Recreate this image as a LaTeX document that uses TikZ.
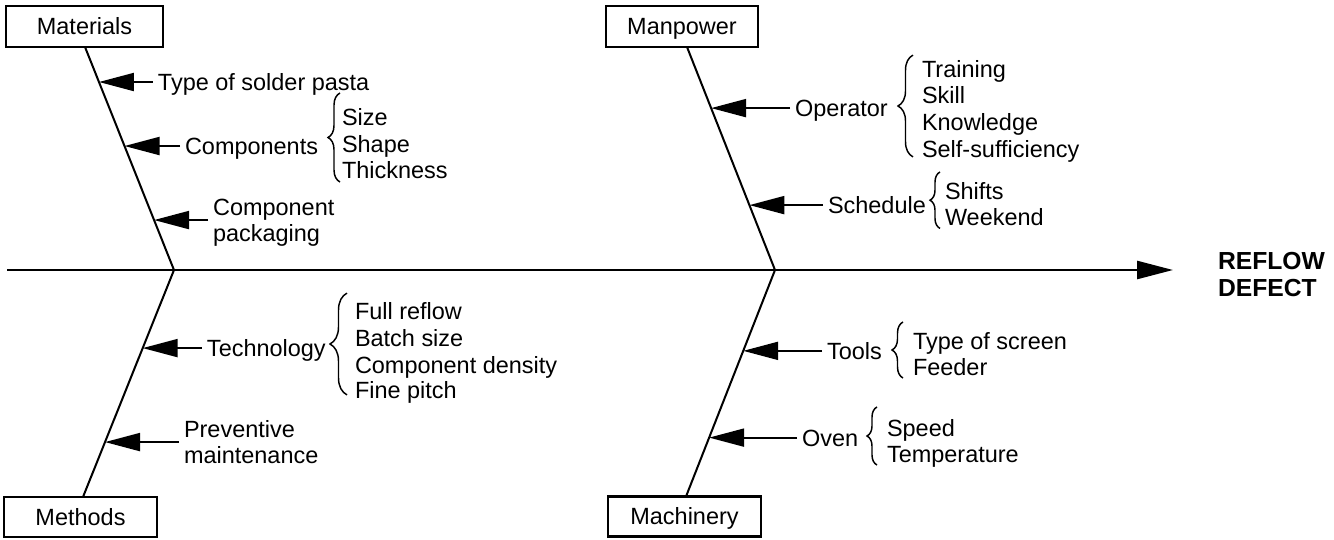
\documentclass[tikz,border=0pt]{standalone}
\usepackage{fontspec}
\setmainfont{Liberation Sans}
\usetikzlibrary{arrows.meta,calc,decorations.pathreplacing}

\begin{document}
\begin{tikzpicture}[x=0.75pt,y=-0.75pt,
  every node/.style={inner sep=0pt, outer sep=0pt},
  lab/.style={font=\fontsize{17.6}{21}\selectfont, text height=12.6pt, text depth=0pt, anchor=west},
  catbox/.style={draw, line width=2pt, minimum height=30.75pt,
    font=\fontsize{17.6}{21}\selectfont, text height=12.6pt, text depth=0pt},
  spine/.style={line width=1.5pt},
  axisline/.style={line width=1.9pt, -{Triangle[length=27pt,width=13.5pt]}},
  branch/.style={line width=1.5pt, shorten <=3.75pt, -{Triangle[length=26.25pt,width=13.5pt]}},
  curly/.style={line width=1.1pt, decorate, decoration={brace, amplitude=#1}},
  effect/.style={font=\fontsize{18.5}{21}\selectfont\bfseries, text height=13.3pt, text depth=0pt, anchor=west}
]
\useasboundingbox (0,0) rectangle (1334,539);

% category boxes
\node[catbox, minimum width=117.75pt] (mat) at (84.5,26.5) {Materials};
\node[catbox, minimum width=114pt] (man) at (682,26.5) {Manpower};
\node[catbox, minimum width=114.75pt, minimum height=30pt] (met) at (80.5,517) {Methods};
\node[catbox, minimum width=114.75pt, minimum height=30pt] (mac) at (684.5,516.5) {Machinery};

% main axis
\coordinate (axL) at (7,270);
\coordinate (axR) at (1173,270);
\coordinate (J1) at (174,270);
\coordinate (J2) at (775,270);
\draw[axisline] (axL) -- (axR);

\node[effect] (ef1) at (1218,261) {REFLOW};
\node[effect] (ef2) at (1218,288) {DEFECT};

% spines
\coordinate (matS) at ($(mat.south)+(0.5,0)$);
\coordinate (manS) at ($(man.south)+(5,0)$);
\coordinate (metN) at ($(met.north)+(2.5,0)$);
\coordinate (macN) at ($(mac.north)+(1.5,0)$);
\draw[spine] (matS) -- (J1);
\draw[spine] (manS) -- (J2);
\draw[spine] (J1) -- (metN);
\draw[spine] (J2) -- (macN);

% points where the causes meet the spines
\coordinate (tSolder) at ($(matS)!0.157!(J1)$);
\coordinate (tComp)   at ($(matS)!0.444!(J1)$);
\coordinate (tPack)   at ($(matS)!0.776!(J1)$);
\coordinate (tOper)   at ($(manS)!0.274!(J2)$);
\coordinate (tSched)  at ($(manS)!0.709!(J2)$);
\coordinate (tTech)   at ($(J1)!0.344!(metN)$);
\coordinate (tPrev)   at ($(J1)!0.758!(metN)$);
\coordinate (tTools)  at ($(J2)!0.357!(macN)$);
\coordinate (tOven)   at ($(J2)!0.740!(macN)$);

% Materials
\node[lab] (solder) at ($(tSolder)+(59,0)$) {Type of solder pasta};
\node[lab] (comp) at ($(tComp)+(60.5,0)$) {Components};
\node[lab] (packA) at ($(tPack)+(59,-12.75)$) {Component};
\node[lab] (packB) at ($(tPack)+(59,12.75)$) {packaging};
\coordinate (sPack) at ($(tPack)+(59,0)$);
\draw[branch] (solder.west) -- (tSolder);
\draw[branch] (comp.west) -- (tComp);
\draw[branch] (sPack) -- (tPack);

\node[lab] (size) at (342,117) {Size};
\node[lab] (shape) at (342,144) {Shape};
\node[lab] (thick) at (342,170) {Thickness};
\draw[curly=9pt] ($(thick.south west)+(-2,3.6)$) -- ($(size.north west)+(-2,-15.6)$);

% Manpower
\node[lab] (oper) at ($(tOper)+(84,0)$) {Operator};
\node[lab] (sched) at ($(tSched)+(78.6,0)$) {Schedule};
\draw[branch] (oper.west) -- (tOper);
\draw[branch] (sched.west) -- (tSched);

\node[lab] (train) at (922,69.5) {Training};
\node[lab] (skill) at (922,95) {Skill};
\node[lab] (know) at (922,122.5) {Knowledge};
\node[lab] (self) at (922,149.5) {Self-sufficiency};
\draw[curly=11.25pt] ($(self.south west)+(-9,-1)$) -- ($(train.north west)+(-9,-6)$);

\node[lab] (shifts) at (945,191) {Shifts};
\node[lab] (weekend) at (945,217) {Weekend};
\draw[curly=7.5pt] ($(weekend.south west)+(-5,3)$) -- ($(shifts.north west)+(-5,-10.6)$);

% Methods
\node[lab] (tech) at ($(tTech)+(64.3,0)$) {Technology};
\node[lab] (prevA) at ($(tPrev)+(79,-12.75)$) {Preventive};
\node[lab] (prevB) at ($(tPrev)+(79,12.75)$) {maintenance};
\coordinate (sPrev) at ($(tPrev)+(79,0)$);
\draw[branch] (tech.west) -- (tTech);
\draw[branch] (sPrev) -- (tPrev);

\node[lab] (full) at (355,311.5) {Full reflow};
\node[lab] (batch) at (355,338.5) {Batch size};
\node[lab] (dens) at (355,365) {Component density};
\node[lab] (fine) at (355,390.5) {Fine pitch};
\draw[curly=12.75pt] ($(fine.south west)+(-8,-4)$) -- ($(full.north west)+(-8,-10)$);

% Machinery
\node[lab] (tools) at ($(tTools)+(83.8,0)$) {Tools};
\node[lab] (oven) at ($(tOven)+(93,0)$) {Oven};
\draw[branch] (tools.west) -- (tTools);
\draw[branch] (oven.west) -- (tOven);

\node[lab] (screen) at (913,341) {Type of screen};
\node[lab] (feeder) at (913,367) {Feeder};
\draw[curly=8.25pt] ($(feeder.south west)+(-10,2.6)$) -- ($(screen.north west)+(-10,-10.6)$);

\node[lab] (speed) at (887,428.5) {Speed};
\node[lab] (temp) at (887,454.5) {Temperature};
\draw[curly=7.5pt] ($(temp.south west)+(-10,2.1)$) -- ($(speed.north west)+(-10,-13.1)$);

\end{tikzpicture}
\end{document}
